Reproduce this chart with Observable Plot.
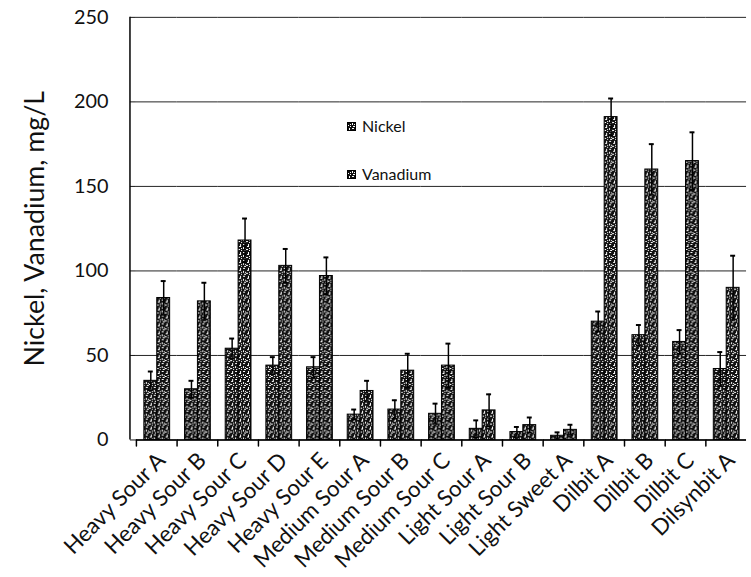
<!DOCTYPE html>
<html><head><meta charset="utf-8">
<script src="https://cdn.jsdelivr.net/npm/d3@7"></script>
<script src="https://cdn.jsdelivr.net/npm/@observablehq/plot@0.6"></script>
<style>
html,body{margin:0;padding:0;background:#fff;overflow:hidden;}
#wrap{position:relative;width:751px;height:577px;overflow:hidden;}
.legend{position:absolute;left:347px;font-family:Lato,sans-serif;font-size:16px;color:#111;display:flex;align-items:center;gap:6px;line-height:1;}
.legend svg{display:block}
g[aria-label="y-axis label"] text{font-size:27px;}
</style></head>
<body><div id="wrap"></div>
<script>
const categories = ["Heavy Sour A","Heavy Sour B","Heavy Sour C","Heavy Sour D","Heavy Sour E","Medium Sour A","Medium Sour B","Medium Sour C","Light Sour A","Light Sour B","Light Sweet A","Dilbit A","Dilbit B","Dilbit C","Dilsynbit A"];
const nickel      = [35, 30, 54, 44, 43, 15, 18, 15.5, 6.6, 4.7, 2.5, 70, 62, 58, 42];
const nickelErr   = [5.5, 5, 6, 5, 6, 3, 5.5, 6, 5, 3, 2, 6, 6, 7, 10];
const vanadium    = [84, 82, 118, 103, 97, 29, 41, 44, 17.5, 8.8, 6, 191, 160, 165, 90];
const vanadiumErr = [10, 11, 13, 10, 11, 6, 10, 13, 9.5, 4.5, 3, 11, 15, 17, 19];
const series = ["Nickel", "Vanadium"];
const yTicks = [0, 50, 100, 150, 200, 250];
const yLabel = "Nickel, Vanadium, mg/L";

const rows = categories.flatMap((c, i) => [
  {category: c, series: series[0], value: nickel[i], err: nickelErr[i]},
  {category: c, series: series[1], value: vanadium[i], err: vanadiumErr[i]}
]);

const chart = Plot.plot({
  width: 757, height: 577,
  marginLeft: 131, marginRight: 0, marginTop: 17, marginBottom: 134,
  style: {fontFamily: "Lato, sans-serif", background: "white", color: "#111"},
  fx: {domain: categories, padding: 0, label: null, axis: null},
  x: {domain: series, paddingInner: 0, paddingOuter: 0.56, axis: null},
  y: {domain: [0, 250]},
  marks: [
    Plot.gridY(yTicks, {stroke: "#222", strokeOpacity: 1, strokeWidth: 1}),
    Plot.barY(rows, {fx: "category", x: "series", y: "value", fill: "url(#speckle)", stroke: "#000", strokeWidth: 1}),
    Plot.ruleX(rows, {fx: "category", x: "series", y1: d => d.value - d.err, y2: d => d.value + d.err, stroke: "#000", strokeWidth: 1.5}),
    Plot.tickY(rows, {fx: "category", x: "series", y: d => d.value + d.err, insetLeft: 4, insetRight: 4, stroke: "#000", strokeWidth: 2}),
    Plot.tickY(rows, {fx: "category", x: "series", y: d => d.value - d.err, insetLeft: 4, insetRight: 4, stroke: "#000", strokeWidth: 1.5}),
    Plot.ruleY([0], {stroke: "#000", strokeWidth: 1.5}),
    Plot.vector([0], {frameAnchor: "bottom-left", length: 6, rotate: 180, anchor: "start", r: 0, stroke: "#000", strokeWidth: 1.5}),
    Plot.axisY(yTicks, {tickSize: 6, tickPadding: 22, fontSize: 20, label: yLabel, labelAnchor: "center", labelOffset: 112, labelArrow: false}),
    Plot.axisFx({anchor: "bottom", tickRotate: -45, tickSize: 0, tickPadding: 13, dx: 5, dy: 4, fontSize: 22.5, label: null})
  ]
});

// speckle pattern used as bar fill
const svg = d3.select(chart);
const defs = svg.insert("defs", ":first-child");
const pat = defs.append("pattern").attr("id", "speckle").attr("patternUnits", "userSpaceOnUse").attr("width", 8).attr("height", 8);
pat.append("rect").attr("width", 8).attr("height", 8).attr("fill", "#111");
[[1,0,2,1],[5,1,1,2],[0,3,2,1],[3,4,1,1],[6,4,2,1],[2,6,1,2],[5,6,2,1],[7,2,1,1],[3,2,1,1]].forEach(([x,y,w,h]) =>
  pat.append("rect").attr("x", x).attr("y", y).attr("width", w).attr("height", h).attr("fill", "#fff"));
// left axis line
svg.append("line").attr("x1", 131).attr("x2", 131).attr("y1", 17).attr("y2", 443).attr("stroke", "#000").attr("stroke-width", 1.5);

const wrap = document.getElementById("wrap");
wrap.appendChild(chart);

const legendTops = [118, 166];
series.forEach((s, i) => {
  const d = document.createElement("div");
  d.className = "legend";
  d.style.top = legendTops[i] + "px";
  d.innerHTML = `<svg width="9" height="9"><rect x="0.5" y="0.5" width="8" height="8" fill="url(#speckle)" stroke="#000"/></svg><span>${s}</span>`;
  wrap.appendChild(d);
});
</script>
</body></html>
